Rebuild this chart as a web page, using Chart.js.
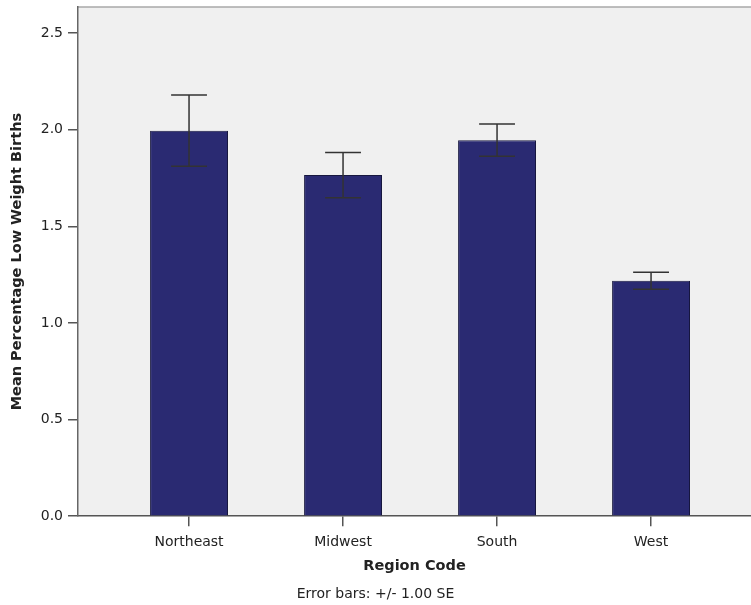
<!DOCTYPE html>
<html>
<head>
<meta charset="utf-8">
<script src="https://cdn.jsdelivr.net/npm/chart.js@4"></script>
<style>
  html, body { margin: 0; padding: 0; background: #fff; }
  #wrap { width: 751px; height: 605px; }
</style>
</head>
<body>
<div id="wrap"><canvas id="grafico"></canvas></div>
<script>
const regioes = ['Northeast', 'Midwest', 'South', 'West'];
const medias = [1.995, 1.765, 1.946, 1.218];
const erroPadrao = [0.184, 0.117, 0.083, 0.044];
const ticksY = [0, 0.5, 1.0, 1.5, 2.0, 2.5];

const fonte = '"DejaVu Sans", sans-serif';

// fundo cinza da área do gráfico + borda superior
const fundoArea = {
    id: 'fundoArea',
    beforeDraw(chart) {
        const { ctx, chartArea: a } = chart;
        ctx.save();
        ctx.fillStyle = '#f0f0f0';
        ctx.fillRect(a.left, a.top, a.right - a.left, a.bottom - a.top);
        ctx.strokeStyle = '#a8a8a8';
        ctx.lineWidth = 1.5;
        ctx.beginPath();
        ctx.moveTo(a.left, a.top);
        ctx.lineTo(a.right, a.top);
        ctx.stroke();
        ctx.restore();
    }
};

// barras de erro (+/- 1 SE)
const barrasErro = {
    id: 'barrasErro',
    afterDatasetsDraw(chart) {
        const { ctx } = chart;
        const yScale = chart.scales.y;
        const meta = chart.getDatasetMeta(0);
        ctx.save();
        ctx.strokeStyle = '#333333';
        ctx.lineWidth = 1.5;
        meta.data.forEach((bar, i) => {
            const x = bar.x;
            const topo = yScale.getPixelForValue(medias[i] + erroPadrao[i]);
            const base = yScale.getPixelForValue(medias[i] - erroPadrao[i]);
            const meio = bar.width * 0.23;
            ctx.beginPath();
            ctx.moveTo(x, topo);
            ctx.lineTo(x, base);
            ctx.moveTo(x - meio, topo);
            ctx.lineTo(x + meio, topo);
            ctx.moveTo(x - meio, base);
            ctx.lineTo(x + meio, base);
            ctx.stroke();
        });
        ctx.restore();
    }
};

const ctx = document.getElementById('grafico').getContext('2d');

new Chart(ctx, {
    type: 'bar',
    data: {
        datasets: [{
            data: regioes.map((r, i) => ({ x: i, y: medias[i] })),
            backgroundColor: '#2a2a72',
            borderColor: '#17173f',
            borderWidth: 1,
            barPercentage: 0.506,
            categoryPercentage: 1.0
        }]
    },
    options: {
        responsive: true,
        maintainAspectRatio: false,
        animation: false,
        layout: { padding: { top: 7, right: 0, left: 0, bottom: 0 } },
        plugins: {
            legend: { display: false },
            tooltip: { enabled: false },
            subtitle: {
                display: true,
                position: 'bottom',
                text: 'Error bars: +/- 1.00 SE',
                color: '#222',
                font: { family: fonte, size: 14 },
                padding: { top: 0, bottom: 2 }
            }
        },
        scales: {
            x: {
                type: 'linear',
                offset: false,
                min: -0.721,
                max: 3.649,
                afterBuildTicks(scale) {
                    scale.ticks = regioes.map((r, i) => ({ value: i }));
                },
                afterFit(scale) {
                    scale.height = 70;
                    scale.paddingLeft = 0;
                    scale.paddingRight = 0;
                },
                ticks: {
                    includeBounds: false,
                    callback: (v) => regioes[v],
                    color: '#222',
                    font: { family: fonte, size: 14 },
                    padding: 8,
                    maxRotation: 0
                },
                grid: {
                    offset: false,
                    drawOnChartArea: false,
                    drawTicks: true,
                    tickLength: 10,
                    lineWidth: 1.5,
                    color: '#555'
                },
                border: { color: '#555', width: 1.5 },
                title: {
                    display: true,
                    text: 'Region Code',
                    color: '#222',
                    font: { family: fonte, size: 14.5, weight: 'bold' },
                    padding: { top: 4, bottom: 11 }
                }
            },
            y: {
                min: 0,
                max: 2.635,
                afterBuildTicks(scale) {
                    scale.ticks = ticksY.map(v => ({ value: v }));
                },
                afterFit(scale) {
                    scale.width = 78;
                    scale.paddingTop = 0;
                    scale.paddingBottom = 0;
                },
                ticks: {
                    includeBounds: false,
                    callback: (v) => v.toFixed(1),
                    color: '#222',
                    font: { family: fonte, size: 14 },
                    padding: 5
                },
                grid: {
                    drawOnChartArea: false,
                    drawTicks: true,
                    tickLength: 10,
                    lineWidth: 1.5,
                    color: '#555'
                },
                border: { color: '#666', width: 1.5 },
                title: {
                    display: true,
                    text: 'Mean Percentage Low Weight Births',
                    color: '#222',
                    font: { family: fonte, size: 14.5, weight: 'bold' },
                    padding: { top: 9, bottom: 0 }
                }
            }
        }
    },
    plugins: [fundoArea, barrasErro]
});
</script>
</body>
</html>
